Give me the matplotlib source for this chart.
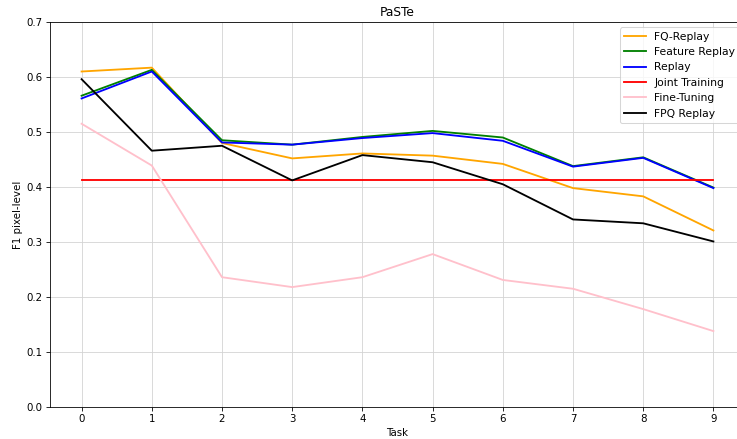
import matplotlib
matplotlib.use('Agg')
import matplotlib.pyplot as plt
import numpy as np

tasks = list(range(10))
fq_replay = [0.610, 0.617, 0.480, 0.452, 0.461, 0.457, 0.442, 0.398, 0.383, 0.321]
feature_replay = [0.566, 0.613, 0.485, 0.477, 0.491, 0.502, 0.490, 0.438, 0.454, 0.399]
replay = [0.561, 0.610, 0.481, 0.477, 0.489, 0.498, 0.484, 0.437, 0.453, 0.398]
joint_training = [0.412] * 10
fine_tuning = [0.515, 0.439, 0.236, 0.218, 0.236, 0.278, 0.231, 0.215, 0.178, 0.138]
fpq_replay = [0.596, 0.466, 0.475, 0.412, 0.458, 0.445, 0.405, 0.341, 0.334, 0.301]

series = [
    ('FQ-Replay', fq_replay, 'orange'),
    ('Feature Replay', feature_replay, 'green'),
    ('Replay', replay, 'blue'),
    ('Joint Training', joint_training, 'red'),
    ('Fine-Tuning', fine_tuning, 'pink'),
    ('FPQ Replay', fpq_replay, 'black'),
]

# drawn as a 10 inch wide figure, shrunk to 737 px
DPI = 73.7
fig = plt.figure(figsize=(737 / DPI, 439 / DPI), dpi=DPI)
ax = fig.add_axes([50 / 737, 32 / 439, 695 / 737, 385 / 439])

for name, vals, col in series:
    ax.plot(tasks, vals, color=col, label=name, linewidth=1.8)

ax.set_title('PaSTe')
ax.set_xlabel('Task')
ax.set_ylabel('F1 pixel-level')
ax.set_xticks(tasks)
ax.set_ylim(0, 0.7)
ax.grid(True, color='#d3d3d3')
ax.legend(loc='upper right', fontsize=10.5)

fig.savefig('out.png', dpi=DPI)
